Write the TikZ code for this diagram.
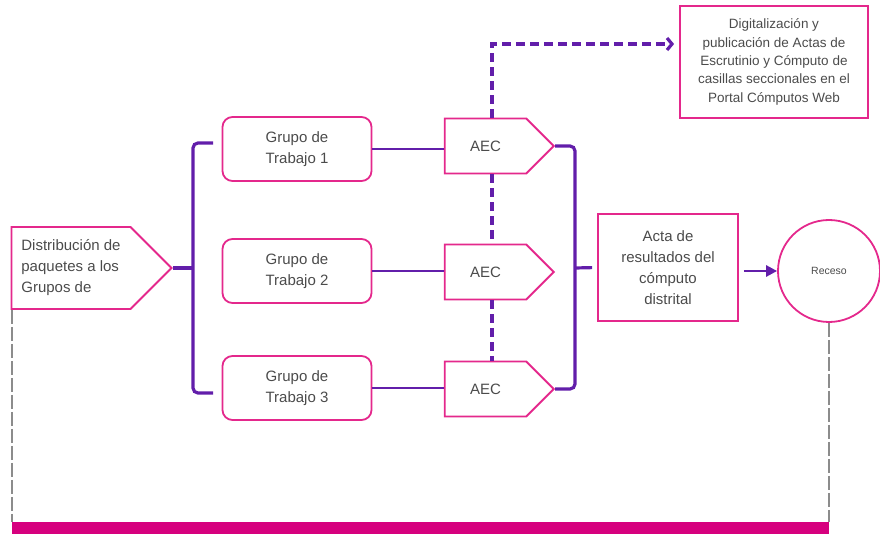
\documentclass[tikz,border=0pt]{standalone}
\usepackage{fontspec}
\setmainfont{Liberation Sans}
\usetikzlibrary{shapes.symbols, arrows.meta}

\definecolor{rosa}{RGB}{228,40,140}
\definecolor{morado}{RGB}{98,30,170}
\definecolor{barra}{RGB}{214,0,126}
\definecolor{gris}{RGB}{140,140,140}
\definecolor{texto}{RGB}{75,75,75}

\tikzstyle{caja}=[%
	draw=rosa, line width=1.8pt, text=texto, align=center,
	font=\fontsize{15}{21}\selectfont
]
\tikzstyle{grupo}=[caja, rounded corners=10pt, minimum width=149pt, minimum height=64pt]
\tikzstyle{aec}=[caja, signal, signal to=east, minimum width=109pt, minimum height=55pt]
\tikzstyle{llave}=[draw=morado, line width=3.2pt, rounded corners=5pt]
\tikzstyle{enlace}=[draw=morado, line width=1.6pt]
\tikzstyle{rayas}=[dash pattern=on 9pt off 5pt]

\begin{document}
\begin{tikzpicture}[x=1pt, y=-1pt]
	\useasboundingbox (0,0) rectangle (880,534);

	\node[caja, signal, signal to=east, minimum width=160pt, minimum height=82pt, align=left] (dist) at (71,268) {Distribución de\\paquetes a los\\Grupos de};

	\foreach \i/\y in {1/149, 2/271, 3/388} {
		\node[grupo] (g\i) at (297,\y) {Grupo de\\Trabajo \i};
	}
	\foreach \i/\y in {1/146, 2/272, 3/389} {
		\node[aec] (aec\i) at (485.5,\y) {AEC};
	}

	\node[caja, minimum width=140pt, minimum height=107pt] (acta) at (668,267.5) {Acta de\\resultados del\\cómputo\\distrital};
	\node[caja, circle, minimum size=102pt, font=\fontsize{10.5}{12}\selectfont] (receso) at (829,271) {Receso};
	\node[caja, minimum width=188pt, minimum height=112pt, font=\fontsize{13.5}{18.3}\selectfont] (digi) at (774,62) {Digitalización y\\publicación de Actas de\\Escrutinio y Cómputo de\\casillas seccionales en el\\Portal Cómputos Web};

	% llaves
	\coordinate (li1) at (213,143);
	\coordinate (li3) at (213,393);
	\coordinate (lix) at (193,268);
	\coordinate (ld) at (575,268);
	\draw[llave] (li1) -| (lix) |- (li3);
	\draw[llave] (dist.east) -- (lix);
	\draw[llave] (aec1.east) -| (ld) |- (aec3.east);
	\draw[llave, shorten >=5pt] (ld) -- (acta.west);

	\foreach \i in {1,2,3} {
		\draw[enlace] (g\i.east) -- (g\i.east -| aec\i.west);
	}
	\draw[enlace, line width=2.6pt, -{Triangle[length=11pt, width=11pt]}, shorten <=5pt] (receso.west -| acta.east) -- (receso.west);

	% punteadas
	\coordinate (esq) at (492,44);
	\draw[llave, rayas, rounded corners=0pt, -{Straight Barb[length=5pt, width=12pt]}, shorten >=5pt] (aec1.north -| esq) -- (esq) -- (digi.west |- esq);
	\draw[llave, rayas] (aec1.south -| esq) -- (aec2.north -| esq);
	\draw[llave, rayas] (aec2.south -| esq) -- (aec3.north -| esq);

	% barra
	\coordinate (bi) at (12,522);
	\coordinate (bd) at (829,522);
	\coordinate (bf) at (829,534);
	\draw[gris, line width=2.4pt, dash pattern=on 14pt off 3pt] (bi |- dist.south) -- (bi);
	\draw[gris, line width=2.4pt, dash pattern=on 14pt off 3pt] (receso.south) -- (bd);
	\fill[barra] (bi) rectangle (bf);
\end{tikzpicture}
\end{document}
